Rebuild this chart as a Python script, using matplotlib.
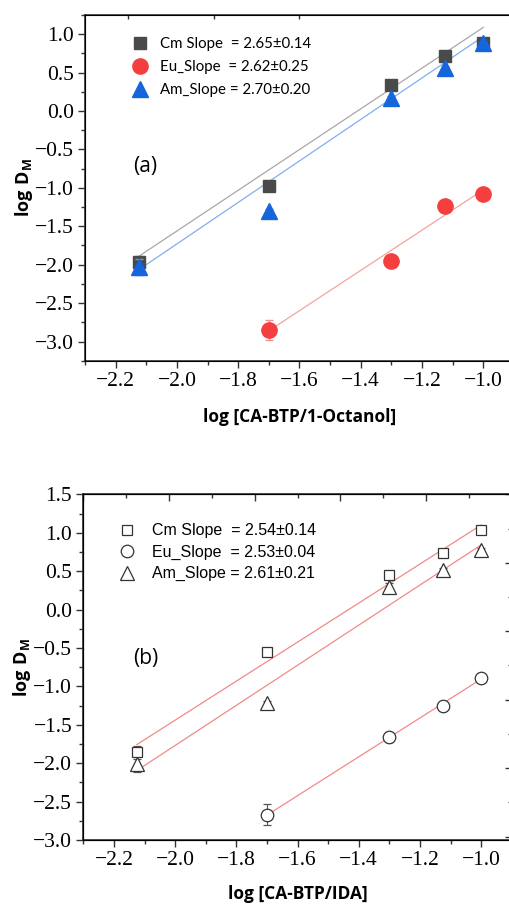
import numpy as np
import matplotlib.pyplot as plt
from matplotlib.ticker import MultipleLocator, FixedLocator, NullFormatter

plt.rcParams['mathtext.fontset'] = 'custom'
plt.rcParams['mathtext.bf'] = 'Open Sans:bold'
plt.rcParams['mathtext.rm'] = 'Open Sans'

# ligand concentration, log scale
logL = [-2.125, -1.699, -1.301, -1.125, -1.0]

# (a) CA-BTP in 1-octanol
cm_a = [-1.96, -0.975, 0.34, 0.717, 0.89]
eu_a = [np.nan, -2.85, -1.952, -1.232, -1.08]
am_a = [-2.03, -1.30, 0.175, 0.56, 0.88]
cm_a_err = [0.07, 0.02, 0.02, 0.02, 0.02]
eu_a_err = [0, 0.135, 0.02, 0.02, 0.02]
am_a_err = [0.11, 0.02, 0.02, 0.02, 0.02]
slopes_a = [2.65, 2.62, 2.70]
slope_err_a = [0.14, 0.25, 0.20]
icpt_a = [3.739, 1.594, 3.671]

# (b) CA-BTP in IDA
cm_b = [-1.86, -0.55, 0.45, 0.73, 1.035]
eu_b = [np.nan, -2.67, -1.66, -1.25, -0.89]
am_b = [-2.01, -1.21, 0.29, 0.515, 0.78]
cm_b_err = [0.09, 0.05, 0.05, 0.02, 0.02]
eu_b_err = [0, 0.14, 0.07, 0.02, 0.02]
am_b_err = [0.1, 0.02, 0.05, 0.02, 0.02]
slopes_b = [2.54, 2.53, 2.61]
slope_err_b = [0.14, 0.04, 0.21]
icpt_b = [3.640, 1.625, 3.451]

names = ['Cm Slope  = ', 'Eu_Slope  = ', 'Am_Slope = ']

x = np.array(logL)

fig = plt.figure(figsize=(5.1, 9.05), dpi=100)
ax1 = fig.add_axes([0.1667, 0.6014, 0.841, 0.382])
ax2 = fig.add_axes([0.1634, 0.0718, 0.840, 0.382])


def style_axes(ax, ylo, yhi):
    ax.set_xlim(-2.3, -0.9)
    ax.set_ylim(ylo, yhi)
    ax.xaxis.set_major_locator(MultipleLocator(0.2))
    ax.xaxis.set_minor_locator(MultipleLocator(0.1))
    ax.yaxis.set_major_locator(MultipleLocator(0.5))
    ax.yaxis.set_minor_locator(MultipleLocator(0.25))
    ax.tick_params(which='major', direction='out', length=5, width=1,
                   color='#333333', labelsize=15.5, pad=3)
    ax.tick_params(which='minor', direction='out', length=3, width=1,
                   color='#333333')
    for lab in ax.get_xticklabels() + ax.get_yticklabels():
        lab.set_family('Liberation Serif')
    for s in ax.spines.values():
        s.set_linewidth(1.2)
        s.set_color('#333333')
    ax.set_ylabel(r'$\mathbf{log\ D_M}$', fontsize=13, labelpad=0)


def fit_line(ax, xs, slope, b, color):
    xx = np.array([xs[0], xs[-1]])
    ax.plot(xx, slope * xx + b, color=color, lw=0.9, zorder=2)


# ---- panel (a) ----
style_axes(ax1, -3.25, 1.25)
fit_line(ax1, x, slopes_a[0], icpt_a[0], '#a8a8a8')
fit_line(ax1, x[1:], slopes_a[1], icpt_a[1], '#f5a3a3')
fit_line(ax1, x, slopes_a[2], icpt_a[2], '#7fb0f0')

h1 = ax1.errorbar(x, cm_a, yerr=cm_a_err, fmt='s', ms=9, color='#4a4a4a',
                  ecolor='#909090', elinewidth=0.8, capsize=3, zorder=3)
h2 = ax1.errorbar(x, eu_a, yerr=eu_a_err, fmt='o', ms=11, color='#f53e3e',
                  ecolor='#f59090', elinewidth=0.8, capsize=3, zorder=3)
h3 = ax1.errorbar(x, am_a, yerr=am_a_err, fmt='^', ms=12, color='#1565dc',
                  ecolor='#6a9be8', elinewidth=0.8, capsize=3, zorder=4)
labels_a = ['%s%.2f\u00b1%.2f' % (n, s, e) for n, s, e in zip(names, slopes_a, slope_err_a)]
ax1.legend([h1[0], h2[0], h3[0]], labels_a, loc='upper left',
           bbox_to_anchor=(0.062, 0.975), frameon=False, handletextpad=0.35,
           labelspacing=0.6, prop={'family': 'Lato', 'size': 10.8})
ax1.text(133, 905 - 166.7, '(a)', transform=None, fontsize=15, family='Open Sans',
         va='center')
ax1.set_xlabel('log [CA-BTP/1-Octanol]', fontsize=12.5, fontweight='bold',
               family='Open Sans', labelpad=12)

# inward ticks along the top edge
top1 = ax1.twiny()
top1.set_xlim(0, 5.0)
top1.xaxis.set_major_locator(FixedLocator([0.5, 1.5, 2.5]))
top1.xaxis.set_major_formatter(NullFormatter())
top1.tick_params(direction='in', length=3, width=1, color='#333333')

# ---- panel (b) ----
style_axes(ax2, -3.0, 1.5)
for xs, s, b in [(x, slopes_b[0], icpt_b[0]), (x[1:], slopes_b[1], icpt_b[1]),
                 (x, slopes_b[2], icpt_b[2])]:
    fit_line(ax2, xs, s, b, '#f08a8a')

k1 = ax2.errorbar(x, cm_b, yerr=cm_b_err, fmt='s', ms=7, mfc='white', mec='#333333',
                  mew=0.9, ecolor='#555555', elinewidth=0.8, capsize=3, zorder=3)
k2 = ax2.errorbar(x, eu_b, yerr=eu_b_err, fmt='o', ms=9, mfc='white', mec='#333333',
                  mew=0.9, ecolor='#555555', elinewidth=0.8, capsize=3, zorder=3)
k3 = ax2.errorbar(x, am_b, yerr=am_b_err, fmt='^', ms=10, mfc='white', mec='#333333',
                  mew=0.9, ecolor='#555555', elinewidth=0.8, capsize=3, zorder=3)
labels_b = ['%s%.2f\u00b1%.2f' % (n, s, e) for n, s, e in zip(names, slopes_b, slope_err_b)]
ax2.legend([k1[0], k2[0], k3[0]], labels_b, loc='upper left',
           bbox_to_anchor=(0.032, 0.958), frameon=False, handletextpad=0.55,
           labelspacing=0.4, prop={'family': 'Liberation Sans', 'size': 11.5})
ax2.text(133, 905 - 658, '(b)', transform=None, fontsize=15, family='Open Sans',
         va='center')
ax2.set_xlabel('log [CA-BTP/IDA]', fontsize=12.5, fontweight='bold',
               family='Open Sans', labelpad=11)

top2 = ax2.twiny()
top2.set_xlim(0, 5.0)
top2.xaxis.set_major_locator(MultipleLocator(1.0))
top2.xaxis.set_minor_locator(MultipleLocator(0.5))
top2.xaxis.set_major_formatter(NullFormatter())
top2.tick_params(which='major', direction='in', length=5, width=1, color='#333333')
top2.tick_params(which='minor', direction='in', length=3, width=1, color='#333333')

right2 = ax2.twinx()
right2.set_ylim(5.05, 0)
right2.yaxis.set_major_locator(MultipleLocator(1.0))
right2.yaxis.set_minor_locator(MultipleLocator(0.5))
right2.yaxis.set_major_formatter(NullFormatter())
right2.tick_params(which='major', direction='in', length=5, width=1, color='#333333')
right2.tick_params(which='minor', direction='in', length=3, width=1, color='#333333')

fig.savefig('out.png', dpi=100)
